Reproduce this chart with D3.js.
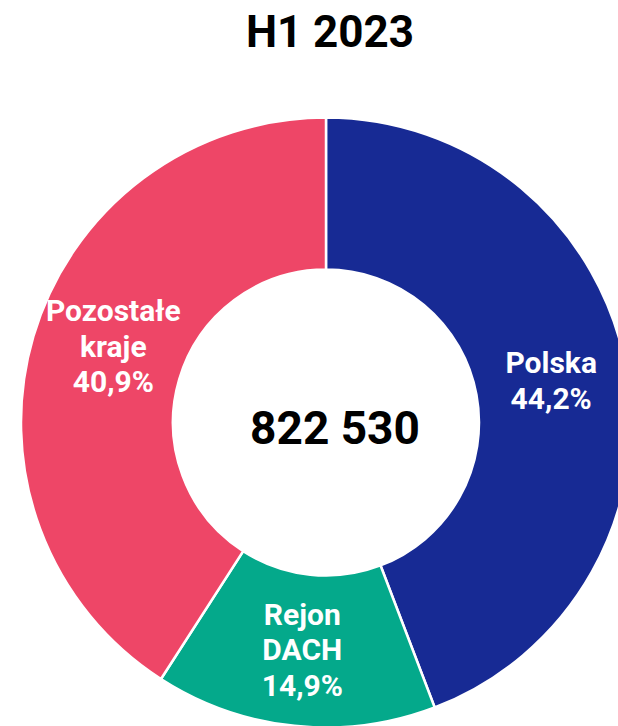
<!DOCTYPE html>
<html><head><meta charset="utf-8">
<script src="https://cdn.jsdelivr.net/npm/d3@7"></script>
<style>
html,body{margin:0;padding:0;background:#fff;}
svg{display:block;font-family:Roboto, "Noto Sans", sans-serif;}
</style></head>
<body>
<svg id="chart" width="618" height="726"></svg>
<script>
const title = "H1 2023";
const totalLabel = "822 530";
const categories = [["Polska"], ["Rejon", "DACH"], ["Pozostałe", "kraje"]];
const shares = [44.2, 14.9, 40.9];
const colors = ["#172A94", "#04A98B", "#EE4667"];

const svg = d3.select("#chart");
const cx = 326, cy = 422.5, rOuter = 305, rInner = 153;

svg.append("text")
  .attr("x", 330).attr("y", 47)
  .attr("text-anchor", "middle")
  .attr("font-size", 44).attr("font-weight", 700)
  .attr("fill", "#000")
  .text(title);

const data = categories.map((c, i) => ({lines: c, value: shares[i], color: colors[i]}));
const pie = d3.pie().value(d => d.value).sort(null);
const arc = d3.arc().innerRadius(rInner).outerRadius(rOuter);
const g = svg.append("g").attr("transform", `translate(${cx},${cy})`);
const arcs = pie(data);

g.selectAll("path").data(arcs).join("path")
  .attr("d", arc)
  .attr("fill", d => d.data.color)
  .attr("stroke", "#fff")
  .attr("stroke-width", 2.5);

const fmt = v => v.toFixed(1).replace(".", ",") + "%";
const lh = 35.5;
// small manual nudge for the long left label, as in the original layout
const nudge = i => i === 2 ? [7, -11] : [0, 0];
g.selectAll("text.lbl").data(arcs).join("text")
  .attr("class", "lbl")
  .attr("text-anchor", "middle")
  .attr("fill", "#fff")
  .attr("font-size", 30).attr("font-weight", 700)
  .each(function(d, i) {
    const [x0, y] = arc.centroid(d);
    const [nx, ny] = nudge(i);
    const x = x0 + nx;
    const lines = d.data.lines.concat([fmt(d.data.value)]);
    const t = d3.select(this);
    const y0 = y + ny - (lines.length - 1) * lh / 2 + 10;
    lines.forEach((l, k) => {
      t.append("tspan").attr("x", x).attr("y", y0 + k * lh).text(l);
    });
  });

svg.append("text")
  .attr("x", 335).attr("y", 444)
  .attr("text-anchor", "middle")
  .attr("font-size", 46).attr("font-weight", 700)
  .attr("fill", "#000")
  .text(totalLabel);
</script>
</body></html>
